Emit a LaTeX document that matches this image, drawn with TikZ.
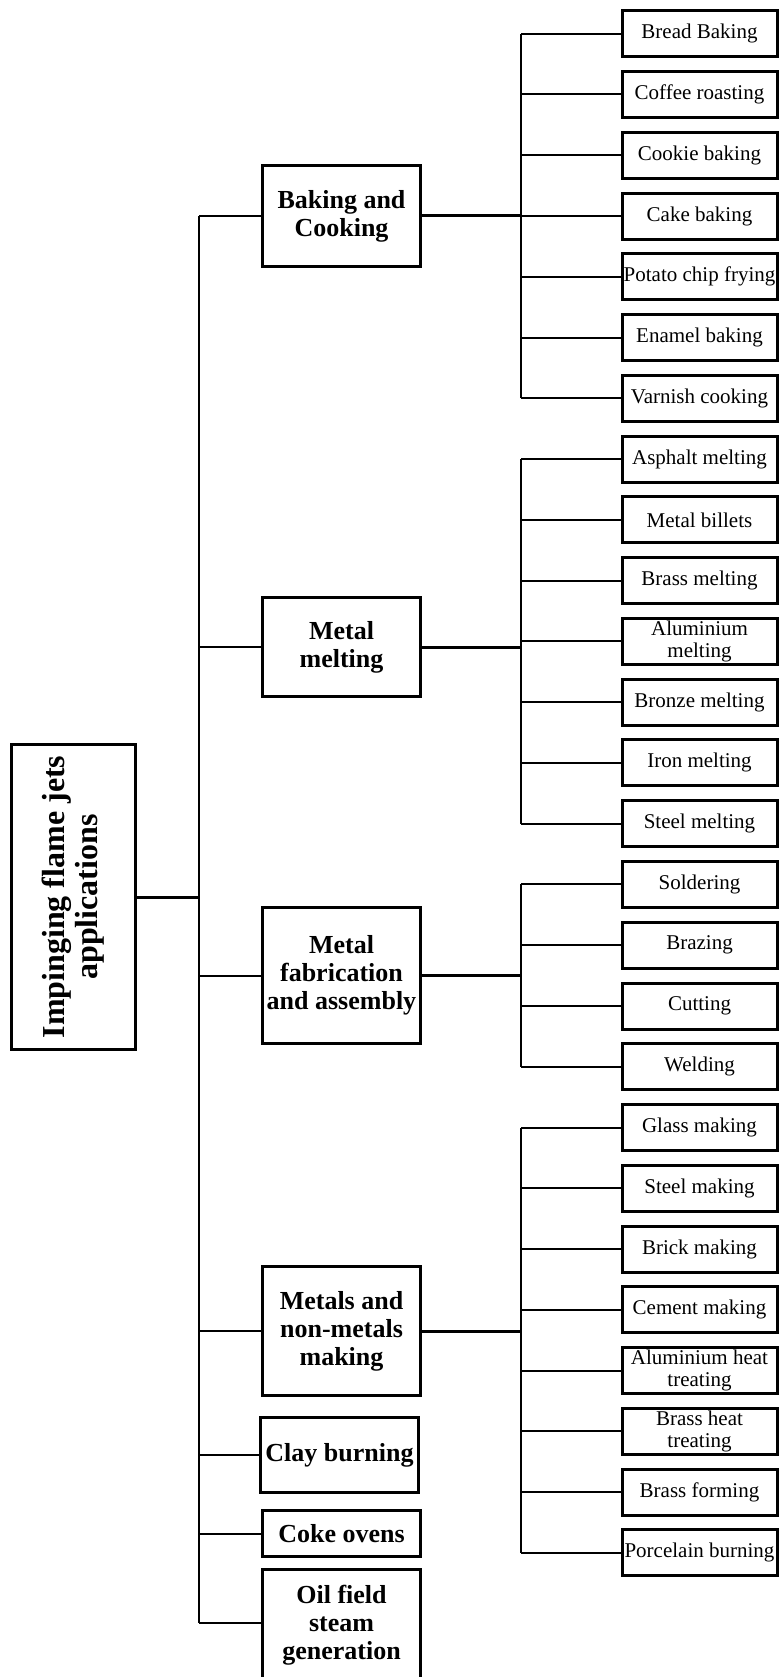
\documentclass[tikz,border=0pt]{standalone}
\usepackage{fontspec}
\setmainfont{Liberation Serif}
\begin{document}
\begin{tikzpicture}[x=1pt,y=-1pt,
  itembox/.style={draw,line width=3pt,minimum width=155pt,minimum height=46pt,inner sep=0pt,align=center,font=\fontsize{21}{21.5}\selectfont},
  catbox/.style={draw,line width=3pt,minimum width=158pt,inner sep=0pt,align=center,font=\bfseries\fontsize{26}{28}\selectfont},
  rootbox/.style={draw,line width=3pt,rotate=90,minimum width=305pt,minimum height=124pt,inner sep=0pt,align=center,font=\bfseries\fontsize{32}{33}\selectfont},
  conn/.style={line width=2pt},
  thickconn/.style={line width=3pt},
  trunkline/.style={line width=2.5pt}]
\useasboundingbox (0,0) rectangle (779,1677);
\fill[white] (0,0) rectangle (779,1677);

% root
\node[rootbox] (root) at (73.5,897) {Impinging flame jets\\applications};

% categories
\node[catbox,minimum height=101pt] (bake) at (341.5,216) {Baking and\\Cooking};
\node[catbox,minimum height=99pt] (melt) at (341.5,647) {Metal\\melting};
\node[catbox,minimum height=136pt] (fab) at (341.5,975.5) {Metal\\fabrication\\and assembly};
\node[catbox,minimum height=129pt] (nonmet) at (341.5,1331) {Metals and\\non-metals\\making};
\node[catbox,minimum height=75pt] (clay) at (339.5,1455) {Clay burning};
\node[catbox,minimum height=46pt] (coke) at (341.5,1533.5) {Coke ovens};
\node[catbox,minimum height=112pt] (oil) at (341.5,1625) {Oil field\\steam\\generation};

% items
\foreach \t [count=\n from 0] in {Bread Baking,Coffee roasting,Cookie baking,Cake baking,Potato chip frying,Enamel baking,Varnish cooking,Asphalt melting,Metal billets,Brass melting,{Aluminium\\melting},Bronze melting,Iron melting,Steel melting,Soldering,Brazing,Cutting,Welding,Glass making,Steel making,Brick making,Cement making,{Aluminium heat\\treating},{Brass heat\\treating},Brass forming,Porcelain burning}
  \node[itembox] (i\n) at (699.5,{33.7+60.77*\n}) {\t};

% trunk and spines
\coordinate (trunk) at (199,0);
\coordinate (spine) at (521,0);

\draw[thickconn] (root.south) -- (root.south -| trunk);
\draw[trunkline] (bake.west -| trunk) -- ([yshift=2pt]oil.west -| trunk);
\foreach \c in {bake,melt,fab,clay,coke}
  \draw[conn] (\c.west) -- (\c.west -| trunk);
\draw[line width=1.5pt] (nonmet.west) -- (nonmet.west -| trunk);
\draw[conn] ([yshift=2pt]oil.west) -- ([yshift=2pt]oil.west -| trunk);

% category to spine
\foreach \c in {bake,melt,fab,nonmet}
  \draw[thickconn] (\c.east) -- (\c.east -| spine);

% brackets
\draw[conn] (i0.west -| spine) -- (i6.west -| spine);
\draw[conn] (i7.west -| spine) -- (i13.west -| spine);
\draw[conn] (i14.west -| spine) -- (i17.west -| spine);
\draw[conn] (i18.west -| spine) -- (i25.west -| spine);
\foreach \n in {0,...,25}
  \draw[conn] (i\n.west) -- (i\n.west -| spine);
\end{tikzpicture}
\end{document}
